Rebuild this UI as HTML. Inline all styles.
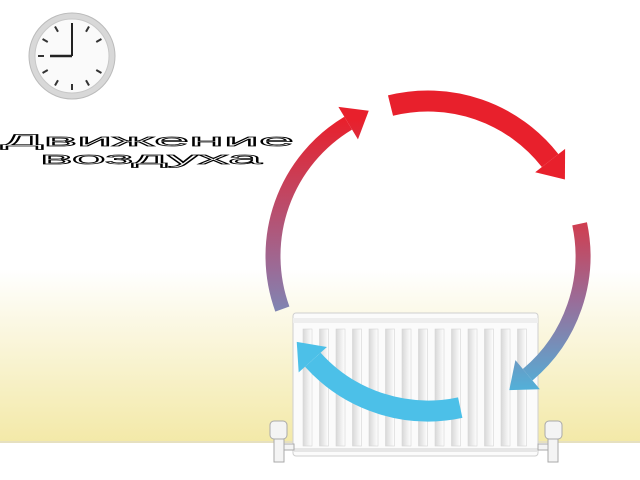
<!DOCTYPE html>
<html><head><meta charset="utf-8"><style>
html,body{margin:0;padding:0;width:640px;height:480px;overflow:hidden;background:#fff}
svg{display:block}
</style></head><body>
<svg id="s" width="640" height="480" viewBox="0 0 640 480" xmlns="http://www.w3.org/2000/svg">
<defs>
<linearGradient id="wall" x1="0" y1="0" x2="0" y2="1">
<stop offset="0" stop-color="#ffffff"/><stop offset="0.3" stop-color="#fbf8e4"/><stop offset="1" stop-color="#f3e9a8"/>
</linearGradient>
<linearGradient id="gR" gradientUnits="userSpaceOnUse" x1="0" y1="200" x2="0" y2="400">
<stop offset="0" stop-color="#e0303a"/><stop offset="0.5" stop-color="#9a6c98"/><stop offset="1" stop-color="#4ab8e0"/>
</linearGradient>
<linearGradient id="gL" gradientUnits="userSpaceOnUse" x1="0" y1="120" x2="0" y2="370">
<stop offset="0" stop-color="#e8202c"/><stop offset="0.6" stop-color="#9a6c98"/><stop offset="1" stop-color="#5aa8d8"/>
</linearGradient>
<linearGradient id="fin" x1="0" y1="0" x2="1" y2="0">
<stop offset="0" stop-color="#d8d8d8"/><stop offset="1" stop-color="#ffffff"/>
</linearGradient>
</defs>
<rect x="0" y="270" width="640" height="172" fill="url(#wall)"/>
<rect x="0" y="441" width="640" height="2" fill="#e6e0c0"/>
<circle cx="72" cy="56" r="43" fill="#d8d8d8" stroke="#bbb" stroke-width="1"/>
<circle cx="72" cy="56" r="37" fill="#fafafa" stroke="#c8c8c8"/>
<g id="ticks" stroke="#333" stroke-width="2"></g>
<line x1="72" y1="56" x2="72" y2="23" stroke="#222" stroke-width="2"/>
<line x1="72" y1="56" x2="50" y2="56" stroke="#222" stroke-width="2.5"/>
<text x="1" y="146" font-family="Liberation Sans, sans-serif" font-size="17" fill="#fff" stroke="#000" stroke-width="0.7" textLength="293" lengthAdjust="spacingAndGlyphs">Движение</text>
<text x="40" y="164" font-family="Liberation Sans, sans-serif" font-size="17" fill="#fff" stroke="#000" stroke-width="0.7" textLength="222" lengthAdjust="spacingAndGlyphs">воздуха</text>
<g>
<rect x="293" y="313" width="245" height="143" rx="3" fill="#fbfbfb" stroke="#cfcfcf"/>
<rect x="293" y="318" width="245" height="5" fill="#eee"/>
<rect x="293" y="448" width="245" height="4" fill="#e6e6e6"/>
</g>
<g id="fins"></g>
<g fill="#f4f4f4" stroke="#aaa">
<rect x="270" y="421" width="17" height="18" rx="4"/><rect x="274" y="439" width="10" height="23"/><rect x="284" y="444" width="10" height="6"/>
<rect x="545" y="421" width="17" height="18" rx="4"/><rect x="548" y="439" width="10" height="23"/><rect x="538" y="444" width="10" height="6"/>
</g>
<g id="arrows"></g>
</svg>
<script>
var NS="http://www.w3.org/2000/svg";
function el(p,t,a){var e=document.createElementNS(NS,t);for(var k in a)e.setAttribute(k,a[k]);document.getElementById(p).appendChild(e);return e;}
for(var i=0;i<12;i++){var a=i*Math.PI/6;if(i==0||i==9)continue;el("ticks","line",{x1:72+28*Math.cos(a),y1:56+28*Math.sin(a),x2:72+34*Math.cos(a),y2:56+34*Math.sin(a)});}
for(var i=0;i<14;i++){var x=303+i*16.5;el("fins","rect",{x:x,y:329,width:9,height:117,fill:"url(#fin)",stroke:"#d4d4d4","stroke-width":0.6});}
var cx=428,cy=256,r=155;
function P(t){t=t*Math.PI/180;return[cx+r*Math.cos(t),cy+r*Math.sin(t)];}
function arc(t0,t1,col,w){var a=P(t0),b=P(t1);var large=(t1-t0)>180?1:0;
el("arrows","path",{d:"M"+a[0]+" "+a[1]+" A"+r+" "+r+" 0 "+large+" 1 "+b[0]+" "+b[1],fill:"none",stroke:col,"stroke-width":w});
var t=t1*Math.PI/180,tx=-Math.sin(t),ty=Math.cos(t),nx=Math.cos(t),ny=Math.sin(t);
var tip=[b[0]+tx*24,b[1]+ty*24],l=[b[0]+nx*19,b[1]+ny*19],q=[b[0]-nx*19,b[1]-ny*19];
el("arrows","polygon",{points:tip+" "+l+" "+q,fill:col});}
arc(-104,-38,"#e8202c",21);
arc(-12,50,"url(#gR)",15);
arc(78,138,"#4cc0e8",21);
arc(160,239,"url(#gL)",15);
</script>
</body></html>
